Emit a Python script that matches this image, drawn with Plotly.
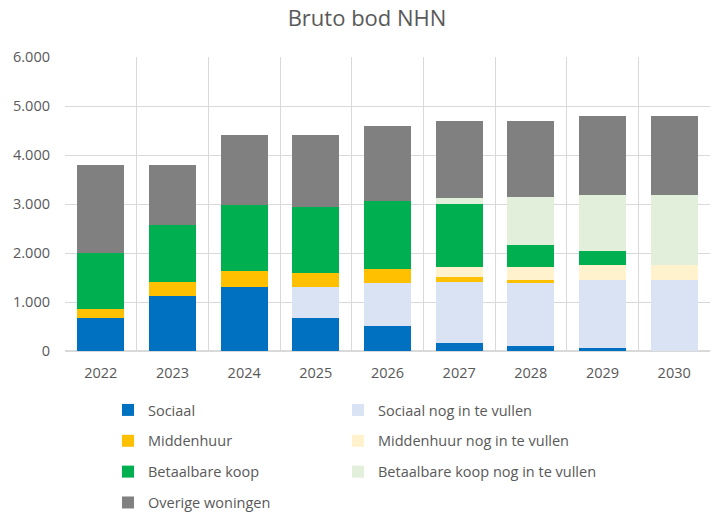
import plotly.graph_objects as go

years = ["2022", "2023", "2024", "2025", "2026", "2027", "2028", "2029", "2030"]
sociaal = [680, 1130, 1300, 680, 520, 170, 110, 70, 0]
sociaal_nog = [0, 0, 0, 630, 870, 1230, 1290, 1370, 1440]
middenhuur = [180, 270, 340, 290, 290, 110, 40, 0, 0]
middenhuur_nog = [0, 0, 0, 0, 0, 200, 270, 310, 310]
betaalbaar = [1140, 1170, 1340, 1340, 1380, 1300, 460, 300, 0]
betaalbaar_nog = [0, 0, 0, 0, 0, 120, 970, 1140, 1440]
overige = [1800, 1230, 1420, 1460, 1540, 1570, 1560, 1610, 1610]

series = [
    ("Sociaal", sociaal, "#0070C0", "legend"),
    ("Sociaal nog in te vullen", sociaal_nog, "#DAE3F3", "legend2"),
    ("Middenhuur", middenhuur, "#FFC000", "legend"),
    ("Middenhuur nog in te vullen", middenhuur_nog, "#FFF2CC", "legend2"),
    ("Betaalbare koop", betaalbaar, "#00B050", "legend"),
    ("Betaalbare koop nog in te vullen", betaalbaar_nog, "#E2EFDA", "legend2"),
    ("Overige woningen", overige, "#808080", "legend"),
]

fig = go.Figure()
for name, vals, color, lg in series:
    fig.add_trace(go.Bar(
        x=years, y=vals, name=name, legend=lg, legendgroup=name,
        marker=dict(color=color, line=dict(width=0)),
    ))

font_family = "Open Sans, Liberation Sans, sans-serif"
legend_common = dict(
    orientation="v", traceorder="grouped", tracegroupgap=9,
    font=dict(family=font_family, size=14.5, color="#595959"),
    bgcolor="rgba(0,0,0,0)", itemwidth=30,
    xanchor="left", yanchor="top", xref="paper", yref="container",
)

fig.update_layout(
    width=712, height=512,
    barmode="stack", bargap=0.34,
    separators=",.",
    paper_bgcolor="white", plot_bgcolor="white",
    margin=dict(l=65, r=2, t=57, b=161, autoexpand=False),
    title=dict(text="Bruto bod NHN", x=367 / 712, xanchor="center", xref="container",
               y=1 - 18 / 512, yref="container", yanchor="middle",
               font=dict(family=font_family, size=22, color="#595959")),
    font=dict(family=font_family, color="#595959"),
    legend=dict(x=(108 - 65) / 645, y=1 - 394 / 512, **legend_common),
    legend2=dict(x=(338 - 65) / 645, y=1 - 394 / 512, **legend_common),
    xaxis=dict(
        type="category", tickson="boundaries", showgrid=True, gridcolor="#D9D9D9",
        gridwidth=1, ticks="", tickfont=dict(size=14.5, color="#595959"),
        showline=True, linecolor="#D9D9D9", linewidth=1, mirror=False,
        ticklabelstandoff=9,
    ),
    yaxis=dict(
        range=[0, 6000], dtick=1000, tickformat=",.0f", showgrid=True,
        gridcolor="#D9D9D9", gridwidth=1, zeroline=True, zerolinecolor="#D9D9D9",
        tickfont=dict(size=14.5, color="#595959"), ticks="", ticklabelstandoff=14,
    ),
)

fig.write_html("out.html", config={"displayModeBar": False},
               post_script="document.body.style.margin='0';")
